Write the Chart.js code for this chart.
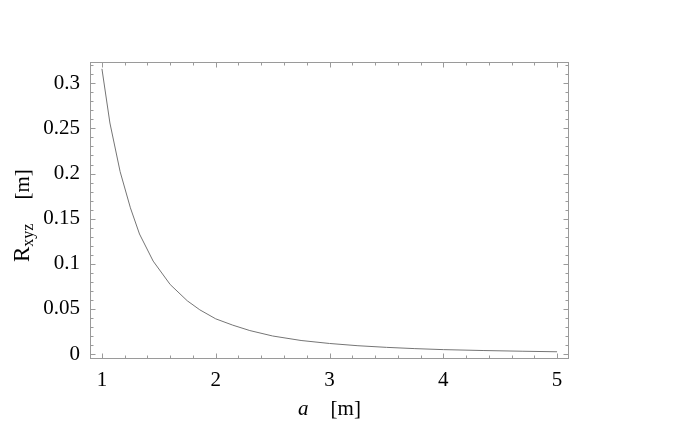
<!DOCTYPE html>
<html>
<head>
<meta charset="utf-8">
<script src="https://cdn.jsdelivr.net/npm/chart.js@4"></script>
<style>
html,body{margin:0;padding:0;background:#fff;}
canvas{display:block;}
</style>
</head>
<body>
<canvas id="c" width="680" height="422"></canvas>
<script>
// Data
const aValues = [1.0, 1.07, 1.16, 1.25, 1.33, 1.45, 1.6, 1.75, 1.86, 2.0, 2.15, 2.3, 2.5, 2.75, 3.0, 3.25, 3.5, 3.75, 4.0, 4.35, 4.7, 5.0];
const rValues = [0.316, 0.256, 0.202, 0.162, 0.133, 0.103, 0.077, 0.059, 0.049, 0.039, 0.032, 0.026, 0.020, 0.015, 0.0117, 0.0092, 0.0074, 0.0060, 0.0049, 0.0039, 0.0031, 0.0025];
const xTicks = [1, 2, 3, 4, 5];
const xTickLabels = ['1', '2', '3', '4', '5'];
const yTicks = [0, 0.05, 0.1, 0.15, 0.2, 0.25, 0.3];
const yTickLabels = ['0', '0.05', '0.1', '0.15', '0.2', '0.25', '0.3'];
const xMinorStep = 0.2;
const yMinorStep = 0.01;
const xTitleMain = 'a';
const xTitleUnit = '[m]';
const yTitleMain = 'R';
const yTitleSub = 'xyz';
const yTitleUnit = '[m]';

const FONT = '"Liberation Serif", "Times New Roman", serif';
const FRAME = '#9a9a9a';
Chart.defaults.font.family = FONT;

const framePlugin = {
  id: 'frame',
  afterDraw(chart) {
    const {ctx, chartArea: a, scales: {x, y}} = chart;
    ctx.save();
    ctx.strokeStyle = FRAME;
    ctx.lineWidth = 1;
    ctx.strokeRect(Math.round(a.left) + 0.5, Math.round(a.top) + 0.5, Math.round(a.right - a.left) - 1, Math.round(a.bottom - a.top) - 1);
    ctx.beginPath();
    const L = Math.round(a.left) + 0.5, R = Math.round(a.right) - 0.5;
    const T = Math.round(a.top) + 0.5, B = Math.round(a.bottom) - 0.5;
    for (let v = Math.ceil(x.min / xMinorStep) * xMinorStep; v <= x.max + 1e-9; v += xMinorStep) {
      const isMajor = xTicks.some(t => Math.abs(t - v) < 1e-6);
      const len = isMajor ? 5 : 3;
      const px = Math.round(x.getPixelForValue(v)) + 0.5;
      ctx.moveTo(px, B); ctx.lineTo(px, B - len);
      ctx.moveTo(px, T); ctx.lineTo(px, T + len);
    }
    for (let v = Math.ceil(y.min / yMinorStep) * yMinorStep; v <= y.max + 1e-9; v += yMinorStep) {
      const isMajor = yTicks.some(t => Math.abs(t - v) < 1e-6);
      const len = isMajor ? 5 : 3;
      const py = Math.round(y.getPixelForValue(v)) + 0.5;
      ctx.moveTo(L, py); ctx.lineTo(L + len, py);
      ctx.moveTo(R, py); ctx.lineTo(R - len, py);
    }
    ctx.stroke();

    // x title
    ctx.fillStyle = '#000';
    ctx.textBaseline = 'alphabetic';
    ctx.font = 'italic 21px ' + FONT;
    const wA = ctx.measureText(xTitleMain).width;
    ctx.font = '21px ' + FONT;
    const wU = ctx.measureText(xTitleUnit).width;
    const gap = 22;
    const cx = (a.left + a.right) / 2;
    const sx = cx - (wA + gap + wU) / 2;
    ctx.font = 'italic 21px ' + FONT;
    ctx.fillText(xTitleMain, sx, 415);
    ctx.font = '21px ' + FONT;
    ctx.fillText(xTitleUnit, sx + wA + gap, 415);

    // y title (rotated, reading bottom to top)
    ctx.translate(29, 262);
    ctx.rotate(-Math.PI / 2);
    ctx.font = '23px ' + FONT;
    const wR = ctx.measureText(yTitleMain).width;
    ctx.font = '16px ' + FONT;
    const wS = ctx.measureText(yTitleSub).width;
    const g2 = 24;
    ctx.font = '23px ' + FONT;
    ctx.fillText(yTitleMain, 0, 0);
    ctx.font = '16px ' + FONT;
    ctx.fillText(yTitleSub, wR, 4);
    ctx.font = '21px ' + FONT;
    ctx.fillText(yTitleUnit, wR + wS + g2, 0);
    ctx.restore();
  }
};

new Chart(document.getElementById('c'), {
  type: 'line',
  data: {
    datasets: [{
      data: aValues.map((v, i) => ({x: v, y: rValues[i]})),
      borderColor: '#757575',
      borderWidth: 1,
      pointRadius: 0,
      tension: 0,
      fill: false
    }]
  },
  options: {
    responsive: false,
    animation: false,
    devicePixelRatio: 1,
    layout: {padding: {top: 62, right: 111, left: 0, bottom: 0}},
    plugins: {legend: {display: false}, tooltip: {enabled: false}},
    scales: {
      x: {
        type: 'linear',
        min: 0.895,
        max: 5.105,
        afterFit: s => { s.height = 63; },
        afterBuildTicks: s => { s.ticks = xTicks.map(v => ({value: v})); },
        grid: {display: false, drawTicks: false},
        border: {display: false},
        ticks: {
          color: '#000',
          font: {family: FONT, size: 21},
          padding: 9,
          maxRotation: 0,
          autoSkip: false,
          callback: (v, i) => xTickLabels[i]
        }
      },
      y: {
        type: 'linear',
        min: -0.0055,
        max: 0.3236,
        afterFit: s => { s.width = 90; },
        afterBuildTicks: s => { s.ticks = yTicks.map(v => ({value: v})); },
        grid: {display: false, drawTicks: false},
        border: {display: false},
        ticks: {
          color: '#000',
          font: {family: FONT, size: 21},
          padding: 10,
          autoSkip: false,
          callback: (v, i) => yTickLabels[i]
        }
      }
    }
  },
  plugins: [framePlugin]
});
</script>
</body>
</html>
